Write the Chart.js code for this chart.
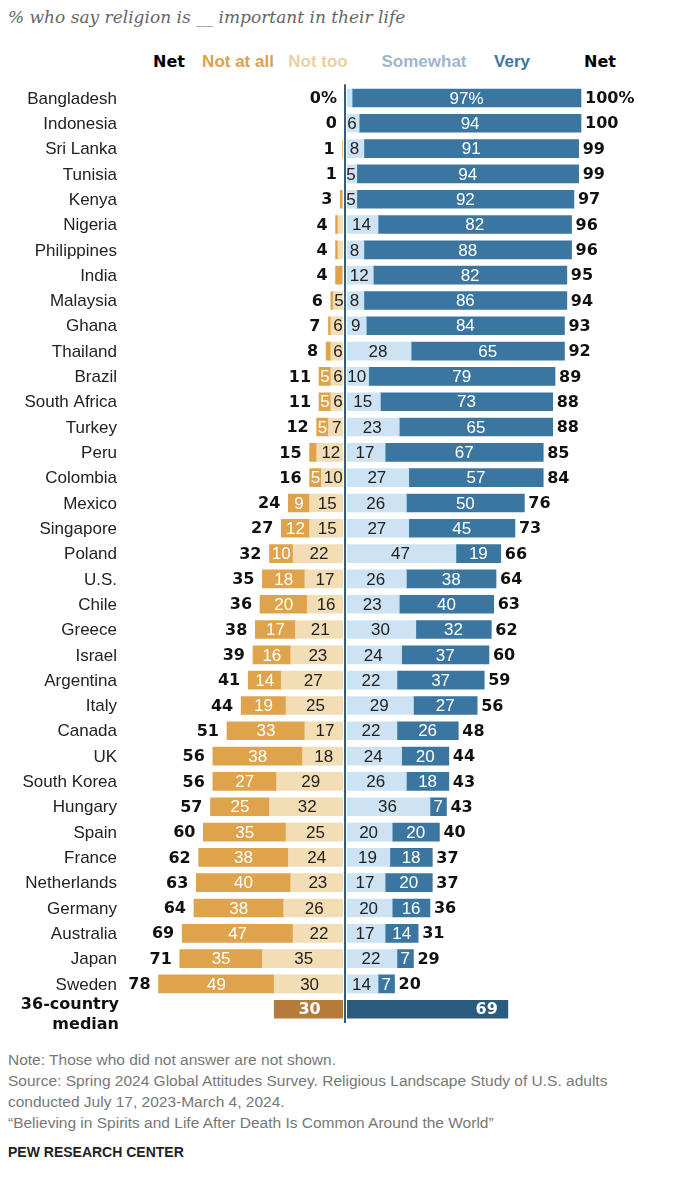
<!DOCTYPE html>
<html>
<head>
<meta charset="utf-8">
<script src="https://cdn.jsdelivr.net/npm/chart.js@4"></script>
<style>
  body { margin: 0; background: #fff; width: 680px; height: 1184px; position: relative; overflow: hidden; }
  .t { position: absolute; white-space: nowrap; }
  #title { left: 8px; top: 7px; font: italic 17px "DejaVu Serif", serif; color: #666; }
  .hd { top: 52px; font: bold 17px "Liberation Sans", Arial, sans-serif; transform: translateX(-50%); }
  .foot { left: 8px; font: 15.5px "Liberation Sans", Arial, sans-serif; color: #777; }
  #chartBox { position: absolute; left: 0; top: 0; }
</style>
</head>
<body>
<div id="title" class="t">% who say religion is __ important in their life</div>
<div class="t hd" style="left:169px;color:#000;font-family:'DejaVu Sans';font-size:16px">Net</div>
<div class="t hd" style="left:238px;color:#DBA24D">Not at all</div>
<div class="t hd" style="left:318px;color:#EDD09F">Not too</div>
<div class="t hd" style="left:424px;color:#9FB7CB">Somewhat</div>
<div class="t hd" style="left:512px;color:#3E76A0">Very</div>
<div class="t hd" style="left:600px;color:#000;font-family:'DejaVu Sans';font-size:16px">Net</div>
<div id="chartBox"><canvas id="religionChart" width="680" height="1040"></canvas></div>
<div class="t foot" style="top:1051px">Note: Those who did not answer are not shown.</div>
<div class="t foot" style="top:1072px">Source: Spring 2024 Global Attitudes Survey. Religious Landscape Study of U.S. adults</div>
<div class="t foot" style="top:1093px">conducted July 17, 2023-March 4, 2024.</div>
<div class="t foot" style="top:1114px">“Believing in Spirits and Life After Death Is Common Around the World”</div>
<div class="t foot" style="top:1144px;color:#222;font-size:14px;font-weight:bold">PEW RESEARCH CENTER</div>
<script>
const countries = ["Bangladesh", "Indonesia", "Sri Lanka", "Tunisia", "Kenya", "Nigeria", "Philippines",
  "India", "Malaysia", "Ghana", "Thailand", "Brazil", "South Africa", "Turkey", "Peru", "Colombia",
  "Mexico", "Singapore", "Poland", "U.S.", "Chile", "Greece", "Israel", "Argentina", "Italy", "Canada",
  "UK", "South Korea", "Hungary", "Spain", "France", "Netherlands", "Germany", "Australia", "Japan", "Sweden"];
const notAtAll = [0, 0, 1, 0, 1, 1, 1, 3, 1, 1, 2, 5, 5, 5, 3, 5, 9, 12, 10, 18, 20, 17, 16, 14, 19, 33,
  38, 27, 25, 35, 38, 40, 38, 47, 35, 49];
const notToo = [0, 0, 0, 0, 1, 3, 3, 1, 5, 6, 6, 6, 6, 7, 12, 10, 15, 15, 22, 17, 16, 21, 23, 27, 25, 17,
  18, 29, 32, 25, 24, 23, 26, 22, 35, 30];
const somewhat = [3, 6, 8, 5, 5, 14, 8, 12, 8, 9, 28, 10, 15, 23, 17, 27, 26, 27, 47, 26, 23, 30, 24, 22,
  29, 22, 24, 26, 36, 20, 19, 17, 20, 17, 22, 14];
const very = [97, 94, 91, 94, 92, 82, 88, 82, 86, 84, 65, 79, 73, 65, 67, 57, 50, 45, 19, 38, 40, 32, 37,
  37, 27, 26, 20, 18, 7, 20, 18, 20, 16, 14, 7, 7];
const netNotImportant = [0, 0, 1, 1, 3, 4, 4, 4, 6, 7, 8, 11, 11, 12, 15, 16, 24, 27, 32, 35, 36, 38, 39,
  41, 44, 51, 56, 56, 57, 60, 62, 63, 64, 69, 71, 78];
const netImportant = [100, 100, 99, 99, 97, 96, 96, 95, 94, 93, 92, 89, 88, 88, 85, 84, 76, 73, 66, 64,
  63, 62, 60, 59, 56, 48, 44, 43, 43, 40, 37, 37, 36, 31, 29, 20];
const medianLabel = "36-country median";
const medianNotImportant = 30;
const medianImportant = 69;

const ZERO_X = 345;
const PX_PER_PCT = 2.36;
const W = 680;
const labelFont = '17px "Liberation Sans", Arial, sans-serif';
const boldFont = 'bold 16px "DejaVu Sans", sans-serif';

const labels = [...countries, medianLabel];
const pad = (arr, last) => [...arr, last];
const blanks = countries.map(() => null);

const datasets = [
  { label: "Not too", data: pad(notToo.map(v => -v), null), backgroundColor: "#F3DDB4", txt: "#222" },
  { label: "Not at all", data: pad(notAtAll.map(v => -v), null), backgroundColor: "#DFA34C", txt: "#fff" },
  { label: "Somewhat", data: pad(somewhat, null), backgroundColor: "#CDE2F2", txt: "#222" },
  { label: "Very", data: pad(very, null), backgroundColor: "#3B76A1", txt: "#fff" },
  { label: "Median not important", data: pad(blanks, -medianNotImportant), backgroundColor: "#B57B3B", txt: "#fff", bold: true },
  { label: "Median important", data: pad(blanks, medianImportant), backgroundColor: "#2B5B7D", txt: "#fff", bold: true },
];

const barLabels = {
  id: "barLabels",
  afterDatasetsDraw(chart) {
    const { ctx, scales } = chart;
    const x = scales.x, y = scales.y;
    ctx.save();
    // zero line
    const top = chart.chartArea.top - 1, bottom = chart.chartArea.bottom + 1;
    ctx.strokeStyle = "#fff";
    ctx.lineWidth = 4;
    ctx.beginPath(); ctx.moveTo(x.getPixelForValue(0), top); ctx.lineTo(x.getPixelForValue(0), bottom); ctx.stroke();
    ctx.strokeStyle = "#2E5E82";
    ctx.lineWidth = 2;
    ctx.beginPath(); ctx.moveTo(x.getPixelForValue(0), top); ctx.lineTo(x.getPixelForValue(0), bottom); ctx.stroke();

    ctx.textBaseline = "middle";
    // values inside segments
    chart.data.datasets.forEach((ds, di) => {
      const meta = chart.getDatasetMeta(di);
      meta.data.forEach((el, i) => {
        const v = ds.data[i];
        if (v === null || Math.abs(v) < 5) return;
        ctx.fillStyle = ds.txt;
        ctx.font = ds.bold ? boldFont : labelFont;
        ctx.textAlign = "center";
        let cx = (el.x + el.base) / 2;
        if (ds.bold && v > 0) { ctx.textAlign = "right"; cx = el.x - 10; }
        ctx.fillText(Math.abs(v) + (i === 0 ? "%" : ""), cx, el.y + 1);
      });
    });

    // net labels and categories
    countries.forEach((c, i) => {
      const yy = y.getPixelForValue(i) + 1;
      ctx.font = boldFont;
      ctx.fillStyle = "#111";
      ctx.textAlign = "right";
      const leftEnd = x.getPixelForValue(-(notAtAll[i] + notToo[i]));
      ctx.fillText(netNotImportant[i] + (i === 0 ? "%" : ""), leftEnd - 8, yy);
      ctx.textAlign = "left";
      const rightEnd = x.getPixelForValue(somewhat[i] + very[i]);
      ctx.fillText(netImportant[i] + (i === 0 ? "%" : ""), rightEnd + 4, yy);
      ctx.font = labelFont;
      ctx.fillStyle = "#222";
      ctx.textAlign = "right";
      ctx.fillText(c, 117, yy);
    });
    const my = y.getPixelForValue(countries.length);
    ctx.font = boldFont;
    ctx.fillStyle = "#111";
    ctx.textAlign = "right";
    ctx.fillText("36-country", 119, my - 4);
    ctx.fillText("median", 119, my + 16);
    ctx.restore();
  },
};

new Chart(document.getElementById("religionChart").getContext("2d"), {
  type: "bar",
  data: { labels: labels, datasets: datasets },
  options: {
    indexAxis: "y",
    responsive: false,
    animation: false,
    devicePixelRatio: 1,
    layout: { padding: { left: 0, right: 0, top: 85.3, bottom: 1040 - 1021.9 } },
    datasets: { bar: { barThickness: 18, borderWidth: 0, borderSkipped: false } },
    plugins: { legend: { display: false }, tooltip: { enabled: false } },
    scales: {
      x: { stacked: true, min: -ZERO_X / PX_PER_PCT, max: (W - ZERO_X) / PX_PER_PCT, display: false },
      y: { stacked: true, display: false },
    },
  },
  plugins: [barLabels],
});
</script>
</body>
</html>
